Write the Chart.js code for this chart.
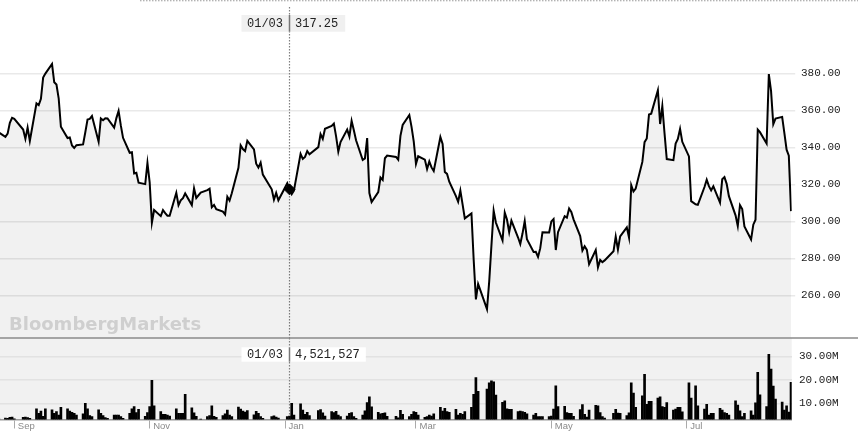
<!DOCTYPE html>
<html><head><meta charset="utf-8">
<script src="https://cdn.jsdelivr.net/npm/chart.js@4.4.1/dist/chart.umd.min.js"></script>
<style>
html,body{margin:0;padding:0;background:#fff;}
#wrap{position:relative;width:858px;height:441px;overflow:hidden;background:#fff;}
canvas{position:absolute;left:0;}
#price{top:0;}
#vol{top:336px;}
</style></head><body>
<div id="wrap"><canvas id="price" width="858" height="338"></canvas><canvas id="vol" width="858" height="105"></canvas></div>
<script>
const dates = [
'2017-08-25','2017-08-28','2017-08-29','2017-08-30','2017-08-31',
'2017-09-01','2017-09-05','2017-09-06','2017-09-07','2017-09-08','2017-09-11','2017-09-12','2017-09-13','2017-09-14','2017-09-15','2017-09-18','2017-09-19','2017-09-20','2017-09-21','2017-09-22','2017-09-25','2017-09-26','2017-09-27','2017-09-28','2017-09-29',
'2017-10-02','2017-10-03','2017-10-04','2017-10-05','2017-10-06','2017-10-09','2017-10-10','2017-10-11','2017-10-12','2017-10-13','2017-10-16','2017-10-17','2017-10-18','2017-10-19','2017-10-20','2017-10-23','2017-10-24','2017-10-25','2017-10-26','2017-10-27','2017-10-30','2017-10-31',
'2017-11-01','2017-11-02','2017-11-03','2017-11-06','2017-11-07','2017-11-08','2017-11-09','2017-11-10','2017-11-13','2017-11-14','2017-11-15','2017-11-16','2017-11-17','2017-11-20','2017-11-21','2017-11-22','2017-11-24','2017-11-27','2017-11-28','2017-11-29','2017-11-30',
'2017-12-01','2017-12-04','2017-12-05','2017-12-06','2017-12-07','2017-12-08','2017-12-11','2017-12-12','2017-12-13','2017-12-14','2017-12-15','2017-12-18','2017-12-19','2017-12-20','2017-12-21','2017-12-22','2017-12-26','2017-12-27','2017-12-28','2017-12-29',
'2018-01-02','2018-01-03','2018-01-04','2018-01-05','2018-01-08','2018-01-09','2018-01-10','2018-01-11','2018-01-12','2018-01-16','2018-01-17','2018-01-18','2018-01-19','2018-01-22','2018-01-23','2018-01-24','2018-01-25','2018-01-26','2018-01-29','2018-01-30','2018-01-31',
'2018-02-01','2018-02-02','2018-02-05','2018-02-06','2018-02-07','2018-02-08','2018-02-09','2018-02-12','2018-02-13','2018-02-14','2018-02-15','2018-02-16','2018-02-20','2018-02-21','2018-02-22','2018-02-23','2018-02-26','2018-02-27','2018-02-28',
'2018-03-01','2018-03-02','2018-03-05','2018-03-06','2018-03-07','2018-03-08','2018-03-09','2018-03-12','2018-03-13','2018-03-14','2018-03-15','2018-03-16','2018-03-19','2018-03-20','2018-03-21','2018-03-22','2018-03-23','2018-03-26','2018-03-27','2018-03-28','2018-03-29',
'2018-04-02','2018-04-03','2018-04-04','2018-04-05','2018-04-06','2018-04-09','2018-04-10','2018-04-11','2018-04-12','2018-04-13','2018-04-16','2018-04-17','2018-04-18','2018-04-19','2018-04-20','2018-04-23','2018-04-24','2018-04-25','2018-04-26','2018-04-27','2018-04-30',
'2018-05-01','2018-05-02','2018-05-03','2018-05-04','2018-05-07','2018-05-08','2018-05-09','2018-05-10','2018-05-11','2018-05-14','2018-05-15','2018-05-16','2018-05-17','2018-05-18','2018-05-21','2018-05-22','2018-05-23','2018-05-24','2018-05-25','2018-05-29','2018-05-30','2018-05-31',
'2018-06-01','2018-06-04','2018-06-05','2018-06-06','2018-06-07','2018-06-08','2018-06-11','2018-06-12','2018-06-13','2018-06-14','2018-06-15','2018-06-18','2018-06-19','2018-06-20','2018-06-21','2018-06-22','2018-06-25','2018-06-26','2018-06-27','2018-06-28','2018-06-29',
'2018-07-02','2018-07-03','2018-07-05','2018-07-06','2018-07-09','2018-07-10','2018-07-11','2018-07-12','2018-07-13','2018-07-16','2018-07-17','2018-07-18','2018-07-19','2018-07-20','2018-07-23','2018-07-24','2018-07-25','2018-07-26','2018-07-27','2018-07-30','2018-07-31',
'2018-08-01','2018-08-02','2018-08-03','2018-08-06','2018-08-07','2018-08-08','2018-08-09','2018-08-10','2018-08-13','2018-08-14','2018-08-15','2018-08-16','2018-08-17'
];
const closes = [
348.05,345.66,347.36,353.18,355.90,
355.40,349.59,344.53,350.61,343.40,363.69,362.75,366.23,377.64,379.81,385.00,375.10,373.91,366.48,351.09,344.99,345.25,340.97,339.60,341.10,
341.53,348.14,355.01,355.33,356.88,342.94,355.59,354.60,355.68,355.57,350.60,355.75,359.65,351.81,345.10,337.02,337.34,325.84,326.17,320.87,320.08,331.53,
321.08,299.26,306.09,302.78,306.05,304.39,302.99,302.99,315.40,308.70,311.30,312.50,315.05,308.74,317.81,312.60,315.55,316.81,317.55,307.54,308.85,
306.53,305.20,303.70,313.26,311.24,315.13,328.91,341.03,339.03,337.89,343.45,338.87,331.10,328.98,331.66,325.20,317.29,311.64,315.36,311.35,
320.53,317.25,314.62,316.58,336.41,333.69,334.80,337.95,336.22,340.06,347.16,344.57,350.02,351.56,352.79,345.89,337.64,342.85,349.53,345.82,354.31,
349.25,343.75,333.13,333.97,345.00,315.23,310.42,315.73,323.66,322.31,334.07,335.49,334.77,333.30,346.17,352.05,357.42,350.99,343.06,
330.93,335.12,333.35,328.20,332.30,329.10,327.17,345.51,341.84,326.63,325.60,321.35,313.56,310.55,316.53,309.10,301.54,304.18,279.18,257.78,266.13,
252.48,267.53,286.94,305.72,299.30,289.66,304.70,300.93,294.08,300.34,291.21,287.69,293.35,300.08,290.24,283.37,283.46,280.69,285.48,294.08,293.90,
299.92,301.15,284.45,294.09,302.77,301.97,306.85,305.02,301.06,291.97,284.18,286.48,284.54,276.82,284.49,275.01,279.07,277.85,278.85,283.76,291.72,284.73,
291.82,296.74,291.13,319.50,316.09,317.66,332.10,342.77,344.78,357.72,358.17,370.83,352.55,362.22,347.51,333.63,333.01,342.00,344.50,349.93,342.95,
335.07,310.86,309.16,308.90,318.51,322.47,318.96,316.71,318.87,310.10,322.69,323.85,320.23,313.58,303.20,297.43,308.74,306.65,297.18,290.17,298.14,
300.84,349.54,348.17,341.99,379.57,370.34,352.45,355.49,356.41,347.64,338.69,335.45,305.50
];
const volumesM = [
3.6,3.7,3.6,4.0,4.1,
3.4,4.0,4.1,3.9,3.6,7.6,5.7,6.7,4.5,7.6,7.2,5.7,6.5,5.0,8.3,7.6,6.7,6.2,5.7,5.0,
5.5,10.0,7.6,4.8,4.3,7.2,5.7,4.8,3.9,3.6,5.0,5.0,5.0,4.3,3.6,5.7,7.6,8.6,6.0,7.4,4.5,6.0,
8.6,19.8,8.9,6.5,5.3,5.3,5.0,4.6,7.6,5.7,5.7,5.7,13.8,8.1,5.9,4.4,3.3,4.3,4.8,8.9,4.5,
4.0,4.8,5.5,7.1,5.0,4.3,8.4,7.5,6.7,6.3,6.9,5.1,6.6,5.7,4.3,3.6,4.3,4.7,4.1,3.7,
4.3,4.521527,10.0,5.0,9.8,7.1,5.3,6.2,4.8,6.9,7.3,5.9,4.6,6.5,6.0,6.6,5.0,4.3,4.6,5.7,6.0,
4.3,3.6,5.0,6.8,10.3,12.8,8.5,6.2,5.5,5.7,5.9,4.4,4.5,3.8,7.0,5.3,4.3,5.3,6.5,
6.2,5.0,4.0,4.3,5.0,4.6,5.5,8.3,6.7,7.9,6.5,6.2,7.4,5.0,5.7,5.3,6.5,8.3,13.8,20.9,15.1,
16.1,18.7,19.6,19.1,13.5,10.4,11.0,7.6,7.4,7.4,6.5,6.7,6.5,6.2,5.5,5.0,5.7,4.3,4.3,4.3,4.3,
4.6,7.5,17.4,8.6,8.7,6.0,5.7,5.7,4.4,7.3,9.5,5.3,4.1,7.1,9.1,8.9,6.0,4.3,3.7,5.7,7.4,5.8,
5.7,4.8,5.9,18.7,14.4,8.3,13.2,22.3,9.6,10.8,10.8,12.2,12.8,8.6,8.3,10.3,7.1,7.5,8.3,8.3,6.4,
18.7,12.2,17.4,8.9,7.5,9.6,5.0,5.7,5.7,7.9,7.1,6.0,5.7,5.0,11.0,9.2,6.8,4.3,5.7,6.8,5.0,
10.2,23.2,13.6,8.6,30.9,24.6,17.3,11.8,10.5,7.1,8.9,6.3,18.9
];
const priceTicks = [260, 280, 300, 320, 340, 360, 380];
const volumeTicks = [10, 20, 30];
const monthTickDates = ['2017-09-01','2017-11-01','2018-01-01','2018-03-01','2018-05-01','2018-07-01'];
const monthTickLabels = ['Sep','Nov','Jan','Mar','May','Jul'];
const hoverDate = '2018-01-03';

// axis ranges (days since 2017-09-01)
const X_MIN = -6.44, X_MAX = 350.3;
const P_MIN = 236.9, P_MAX = 419.6;
const V_MIN = 3.1, V_MAX = 37.8;
const AXIS_W = 66.3;

function dayOf(s){
  return (Date.UTC(+s.slice(0,4), +s.slice(5,7)-1, +s.slice(8,10)) - Date.UTC(2017,8,1)) / 864e5;
}
function commas(n){
  const s = String(Math.round(n));
  return s.replace(/\B(?=(\d{3})+(?!\d))/g, ',');
}
const hi = dates.indexOf(hoverDate);
const hoverDay = dayOf(hoverDate);
const hoverLabel = hoverDate.slice(5,7) + '/' + hoverDate.slice(8,10);
const MONO = '12px "Liberation Mono", "DejaVu Sans Mono", monospace';

function crossX(chart){
  return Math.floor(chart.scales.x.getPixelForValue(hoverDay)) + 0.5;
}
function drawBox(ctx, x, top, bottom, left, right, bg, a, b){
  ctx.save();
  ctx.font = MONO;
  const w1 = ctx.measureText(a).width, w2 = ctx.measureText(b).width;
  const L = x - 6.5 - w1 - 5.5, R = x + 5.5 + w2 + right;
  ctx.fillStyle = bg;
  ctx.fillRect(L, top, R - L, bottom - top);
  ctx.strokeStyle = '#777';
  ctx.lineWidth = 1.5;
  ctx.setLineDash([]);
  ctx.beginPath(); ctx.moveTo(x, top); ctx.lineTo(x, bottom); ctx.stroke();
  ctx.fillStyle = '#222';
  ctx.textBaseline = 'middle';
  const cy = (top + bottom) / 2 + 0.5;
  ctx.textAlign = 'right'; ctx.fillText(a, x - 6.5, cy);
  ctx.textAlign = 'left'; ctx.fillText(b, x + 5.5, cy);
  ctx.restore();
}
function dotted(ctx, x1, y1, x2, y2, color){
  ctx.save();
  ctx.strokeStyle = color; ctx.lineWidth = 1.2;
  ctx.setLineDash([1.5, 1.5]);
  ctx.beginPath(); ctx.moveTo(x1, y1); ctx.lineTo(x2, y2); ctx.stroke();
  ctx.restore();
}

const pricePlugin = {
  id: 'priceDeco',
  beforeDatasetsDraw(chart){
    const ctx = chart.ctx, x = crossX(chart);
    dotted(ctx, x, 7, x, chart.chartArea.bottom, '#808080');
  },
  afterDatasetsDraw(chart){
    const ctx = chart.ctx;
    ctx.save();
    ctx.font = 'bold 18px "DejaVu Sans", "Liberation Sans", Arial, sans-serif';
    try { ctx.letterSpacing = '0px'; } catch(e) {}
    ctx.fillStyle = '#cfcfcf';
    ctx.textBaseline = 'alphabetic';
    ctx.textAlign = 'left';
    ctx.fillText('BloombergMarkets', 9, 329.5);
    ctx.restore();
  },
  afterDraw(chart){
    const ctx = chart.ctx, x = crossX(chart);
    dotted(ctx, 140, 0.75, 858, 0.75, '#9a9a9a');
    drawBox(ctx, x, 15, 31.7, 5.5, 7, '#f0f0f0', hoverLabel, closes[hi].toFixed(2));
  }
};

const volPlugin = {
  id: 'volDeco',
  beforeDraw(chart){
    const {ctx, chartArea: ca} = chart;
    ctx.save();
    ctx.fillStyle = '#f1f1f1';
    ctx.fillRect(ca.left, ca.top, ca.right - ca.left, ca.bottom - ca.top);
    ctx.restore();
  },
  beforeDatasetsDraw(chart){
    const ctx = chart.ctx, x = crossX(chart);
    dotted(ctx, x, chart.chartArea.top, x, chart.chartArea.bottom, '#808080');
  },
  afterDraw(chart){
    const {ctx, chartArea: ca} = chart, x = crossX(chart);
    ctx.save();
    ctx.strokeStyle = '#8a8a8a'; ctx.lineWidth = 1.6;
    ctx.beginPath(); ctx.moveTo(0, ca.top); ctx.lineTo(858, ca.top); ctx.stroke();
    ctx.restore();
    drawBox(ctx, x, 11.3, 25.7, 5.5, 6, '#ffffff', hoverLabel, commas(volumesM[hi] * 1e6));
  }
};

const common = {
  responsive: false, animation: false, devicePixelRatio: 1, events: [],
  plugins: { legend: { display: false }, tooltip: { enabled: false } }
};

new Chart(document.getElementById('price'), {
  type: 'line',
  data: { datasets: [{
    data: dates.map((d, i) => ({ x: dayOf(d), y: closes[i] })),
    borderColor: '#000', borderWidth: 2, tension: 0,
    fill: 'start', backgroundColor: 'rgba(0,0,0,0.055)',
    pointRadius: c => c.dataIndex === hi ? 5.5 : 0,
    pointHoverRadius: 0,
    pointStyle: 'rectRot', pointBackgroundColor: '#000', pointBorderColor: '#000', pointBorderWidth: 1
  }]},
  options: Object.assign({}, common, {
    layout: { padding: 0 },
    scales: {
      x: { type: 'linear', min: X_MIN, max: X_MAX, display: false, offset: false },
      y: {
        position: 'right', min: P_MIN, max: P_MAX,
        afterBuildTicks: a => { a.ticks = priceTicks.map(v => ({ value: v })); },
        afterFit: a => { a.width = AXIS_W; a.paddingTop = 0; a.paddingBottom = 0; },
        grid: { color: '#e9e9e9', lineWidth: 1.5, drawTicks: true, tickLength: 3.5, tickColor: '#e9e9e9' },
        border: { display: false },
        ticks: { padding: 5.8, color: '#222', font: { family: '"Liberation Mono", "DejaVu Sans Mono", monospace', size: 11 },
                 callback: v => Number(v).toFixed(2) }
      }
    }
  }),
  plugins: [pricePlugin]
});

new Chart(document.getElementById('vol'), {
  type: 'bar',
  data: { datasets: [{
    data: dates.map((d, i) => ({ x: dayOf(d), y: volumesM[i] })),
    backgroundColor: '#000', borderWidth: 0, barThickness: 2
  }]},
  options: Object.assign({}, common, {
    layout: { padding: { top: 2, left: 0, right: 0, bottom: 0 } },
    scales: {
      x: {
        type: 'linear', min: X_MIN, max: X_MAX, position: 'bottom', offset: false,
        afterBuildTicks: a => { a.ticks = monthTickDates.map(d => ({ value: dayOf(d) })); },
        afterFit: a => { a.height = 21.5; a.paddingLeft = 0; a.paddingRight = 0; },
        grid: { offset: false, drawOnChartArea: false, drawTicks: true, tickLength: 9, tickColor: '#aaaaaa', lineWidth: 1 },
        border: { display: true, color: '#9a9a9a', width: 1.5 },
        ticks: { autoSkip: false, maxRotation: 0, minRotation: 0, align: 'start', labelOffset: 3.5, padding: -8.2,
                 color: '#8a8a8a', font: { family: '"Liberation Sans", Arial, sans-serif', size: 9.5 },
                 callback: (v, i) => monthTickLabels[i] }
      },
      y: {
        position: 'right', min: V_MIN, max: V_MAX,
        afterBuildTicks: a => { a.ticks = volumeTicks.map(v => ({ value: v })); },
        afterFit: a => { a.width = AXIS_W; a.paddingTop = 0; a.paddingBottom = 0; },
        grid: { color: '#e2e2e2', lineWidth: 1.5, drawTicks: false },
        border: { display: false },
        ticks: { padding: 7.3, color: '#222', font: { family: '"Liberation Mono", "DejaVu Sans Mono", monospace', size: 11 },
                 callback: v => Number(v).toFixed(2) + 'M' }
      }
    }
  }),
  plugins: [volPlugin]
});
</script>
</body></html>
